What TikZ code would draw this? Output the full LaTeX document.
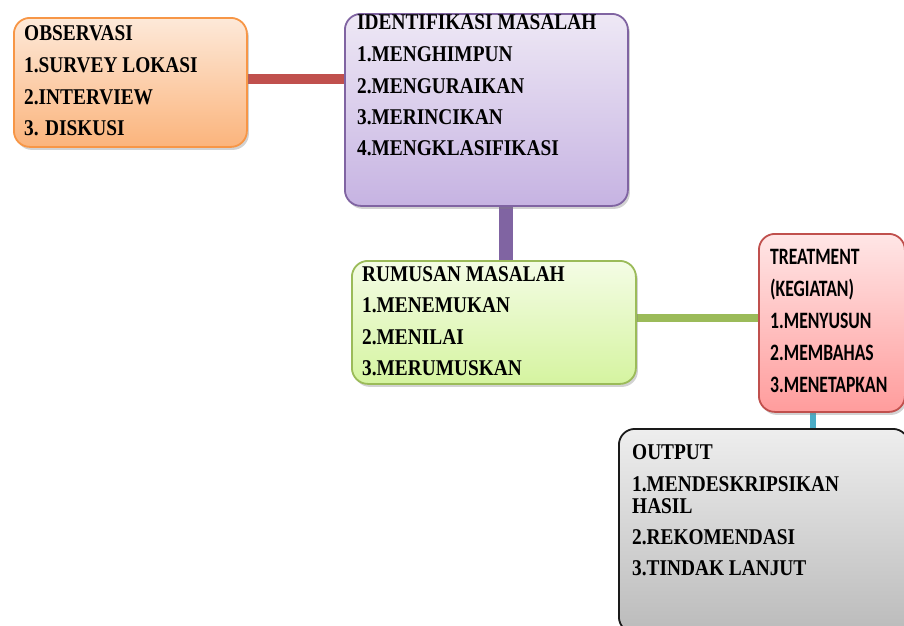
\documentclass[tikz,border=0pt]{standalone}
\usepackage{fontspec}
\newfontfamily\boxserif[FakeStretch=0.86]{Liberation Serif}
\newfontfamily\boxsans[FakeStretch=0.75]{Carlito}
\usetikzlibrary{shadows,backgrounds}
\definecolor{obsTop}{HTML}{FDE9D9}
\definecolor{obsBot}{HTML}{FBB47C}
\definecolor{obsLine}{HTML}{F79646}
\definecolor{idTop}{HTML}{EEE8F5}
\definecolor{idBot}{HTML}{C6B3E2}
\definecolor{idLine}{HTML}{8064A2}
\definecolor{rmTop}{HTML}{F4FCE5}
\definecolor{rmBot}{HTML}{D5F4A0}
\definecolor{rmLine}{HTML}{9BBB59}
\definecolor{trTop}{HTML}{FFE6E6}
\definecolor{trBot}{HTML}{FF9C9C}
\definecolor{trLine}{HTML}{C0504D}
\definecolor{otTop}{HTML}{EEEEEE}
\definecolor{otBot}{HTML}{BBBBBB}
\definecolor{otLine}{HTML}{1A1A1A}
\definecolor{cyanLine}{HTML}{4BACC6}
\tikzset{
  box/.style={rectangle, rounded corners=16pt, line width=1.8pt, inner sep=0pt,
    anchor=north west,
    drop shadow={opacity=0.35, shadow xshift=2pt, shadow yshift=-3pt}},
  serifline/.style={anchor=base west, inner sep=0pt,
    font=\boxserif\bfseries\fontsize{22.5}{25}\selectfont},
  sansline/.style={anchor=base west, inner sep=0pt,
    font=\boxsans\bfseries\fontsize{23.5}{25}\selectfont},
  link/.style={line cap=butt}
}
\begin{document}
\begin{tikzpicture}[x=1pt,y=-1pt]
\useasboundingbox (0,0) rectangle (904,625);
\clip (0,0) rectangle (904,625);

% boxes
\node[box, draw=obsLine, top color=obsTop, bottom color=obsBot,
  minimum width=233pt, minimum height=129pt] (obs) at (13,17) {};
\node[box, draw=idLine, top color=idTop, bottom color=idBot,
  minimum width=283pt, minimum height=192pt] (ident) at (344,13) {};
\node[box, draw=rmLine, top color=rmTop, bottom color=rmBot,
  minimum width=284pt, minimum height=123pt] (rum) at (351,260) {};
\node[box, draw=trLine, top color=trTop, bottom color=trBot,
  minimum width=146pt, minimum height=178pt] (treat) at (758,233) {};
\node[box, draw=otLine, top color=otTop, bottom color=otBot,
  minimum width=290pt, minimum height=204pt] (out) at (618,428) {};

% connectors
\begin{scope}[on background layer]
\fill[white] (0,0) rectangle (904,625);
\draw[link, trLine, line width=10pt]
  ([yshift=3.5pt]obs.east) -- ([yshift=3.5pt]obs.east -| ident.west);
\draw[link, idLine, line width=14pt]
  ([xshift=19.5pt]ident.south) -- ([xshift=19.5pt]ident.south |- rum.north);
\draw[link, rmLine, line width=8pt]
  ([yshift=4.5pt]rum.east) -- ([yshift=4.5pt]rum.east -| treat.west);
\draw[link, cyanLine, line width=6pt]
  ([xshift=-19pt]treat.south) -- ([xshift=-19pt]treat.south |- out.north);
\end{scope}

% texts
\node[serifline] (obs-t1) at (24,40) {OBSERVASI};
\node[serifline] (obs-t2) at (24,72) {1.SURVEY LOKASI};
\node[serifline] (obs-t3) at (24,104) {2.INTERVIEW};
\node[serifline] (obs-t4) at (24,135) {3. DISKUSI};

\node[serifline] (id-t1) at (357,29) {IDENTIFIKASI MASALAH};
\node[serifline] (id-t2) at (357,61) {1.MENGHIMPUN};
\node[serifline] (id-t3) at (357,93) {2.MENGURAIKAN};
\node[serifline] (id-t4) at (357,124) {3.MERINCIKAN};
\node[serifline] (id-t5) at (357,155) {4.MENGKLASIFIKASI};

\node[serifline] (rm-t1) at (362,281) {RUMUSAN MASALAH};
\node[serifline] (rm-t2) at (362,312) {1.MENEMUKAN};
\node[serifline] (rm-t3) at (362,344) {2.MENILAI};
\node[serifline] (rm-t4) at (362,375) {3.MERUMUSKAN};

\node[sansline] (tr-t1) at (770,264) {TREATMENT};
\node[sansline] (tr-t2) at (770,296) {(KEGIATAN)};
\node[sansline] (tr-t3) at (770,328) {1.MENYUSUN};
\node[sansline] (tr-t4) at (770,360) {2.MEMBAHAS};
\node[sansline] (tr-t5) at (770,392) {3.MENETAPKAN};

\node[serifline] (ot-t1) at (632,459) {OUTPUT};
\node[serifline] (ot-t2) at (632,491) {1.MENDESKRIPSIKAN};
\node[serifline] (ot-t3) at (632,513) {HASIL};
\node[serifline] (ot-t4) at (632,544) {2.REKOMENDASI};
\node[serifline] (ot-t5) at (632,575) {3.TINDAK LANJUT};
\end{tikzpicture}
\end{document}
